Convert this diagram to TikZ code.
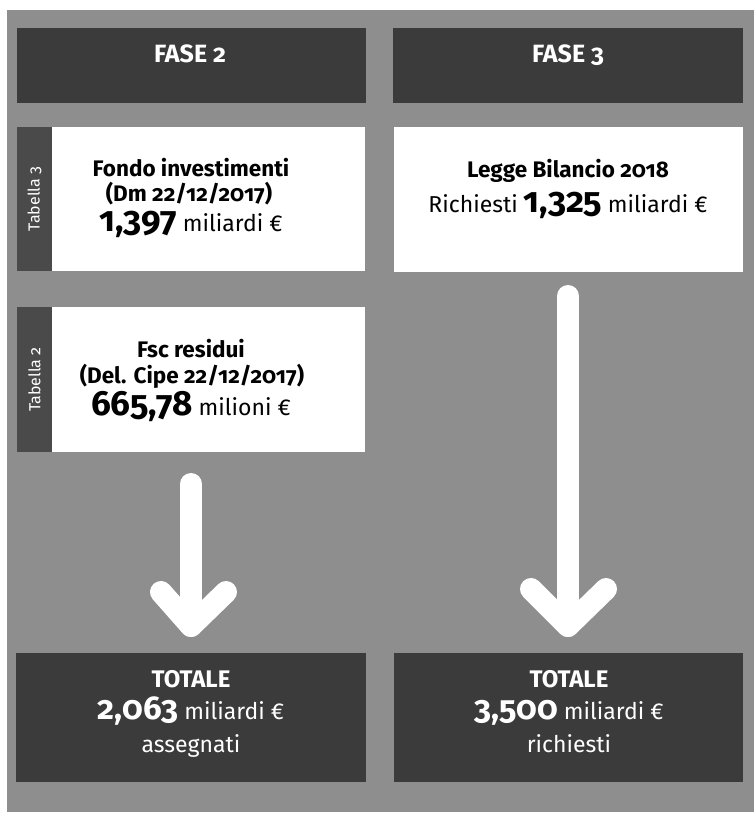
\documentclass[tikz,border=0pt]{standalone}
\usepackage{fontspec}
\setmainfont{Fira Sans}[Numbers=OldStyle]
\definecolor{bggray}{HTML}{8E8E8E}
\definecolor{darkbox}{HTML}{3B3B3B}
\definecolor{tabgray}{HTML}{4A4A4A}
\newcommand{\bignum}[1]{{\fontsize{35}{36}\selectfont\bfseries #1}}
\newcommand{\totnum}[1]{{\fontsize{33}{36}\selectfont\bfseries #1}}
\tikzset{
  darkpanel/.style={fill=darkbox, draw=none, inner sep=0pt},
  whitepanel/.style={fill=white, draw=none, inner sep=0pt},
  tabstrip/.style={fill=tabgray, draw=none, inner sep=0pt},
  headtxt/.style={anchor=base, inner sep=0pt, text=white, font=\fontsize{25}{28}\selectfont\bfseries},
  boldline/.style={anchor=base, inner sep=0pt, text=black, font=\fontsize{22.5}{26}\selectfont\bfseries},
  plainline/.style={anchor=base, inner sep=0pt, text=black, font=\fontsize{23}{26}\selectfont},
  tottitle/.style={anchor=base, inner sep=0pt, text=white, font=\fontsize{24}{26}\selectfont\bfseries},
  totline/.style={anchor=base, inner sep=0pt, text=white, font=\fontsize{23}{26}\selectfont},
  tabtxt/.style={rotate=90, inner sep=0pt, text=white, font=\fontsize{16}{18}\selectfont},
  bigarrow/.style={draw=white, line width=22pt, line cap=round, line join=round},
}
\begin{document}
\begin{tikzpicture}[x=1pt,y=-1pt]
\useasboundingbox (0,0) rectangle (754,821);
\fill[white] (0,0) rectangle (754,821);
\fill[bggray] (7,10) rectangle (754,812);
% headers
\node[darkpanel, minimum width=349pt, minimum height=75pt] (f2) at (191.5,65.5) {};
\node[darkpanel, minimum width=350pt, minimum height=75pt] (f3) at (568,65.5) {};
\node[headtxt] (f2t) at (190,63) {FASE 2};
\node[headtxt] (f3t) at (568,63) {FASE 3};
% Fondo investimenti
\node[tabstrip, minimum width=35pt, minimum height=144pt] (t3) at (34.5,199) {};
\node[tabtxt] (t3l) at (t3.center) {Tabella 3};
\node[whitepanel, minimum width=313pt, minimum height=144pt] (fondo) at (208.5,199) {};
\node[boldline] (fondo1) at (191,177) {Fondo investimenti};
\node[boldline] (fondo2) at (189,201) {(Dm 22/12/2017)};
\node[plainline] (fondo3) at (191,231) {\bignum{1,397}\ miliardi €};
% Legge Bilancio
\node[whitepanel, minimum width=349pt, minimum height=145pt] (legge) at (568.5,199.5) {};
\node[boldline] (legge1) at (568,178) {Legge Bilancio 2018};
\node[plainline] (legge2) at (568,212) {Richiesti \bignum{1,325}\ miliardi €};
% Fsc residui
\node[tabstrip, minimum width=35pt, minimum height=145pt] (t2) at (34.5,379.5) {};
\node[tabtxt] (t2l) at (t2.center) {Tabella 2};
\node[whitepanel, minimum width=313pt, minimum height=145pt] (fsc) at (208.5,379.5) {};
\node[boldline] (fsc1) at (191,357) {Fsc residui};
\node[boldline] (fsc2) at (192,383) {(Del. Cipe 22/12/2017)};
\node[plainline] (fsc3) at (191,415) {\bignum{665,78}\ milioni €};
% totals
\node[darkpanel, minimum width=350pt, minimum height=129pt] (tot2) at (191,717.5) {};
\node[darkpanel, minimum width=349pt, minimum height=129pt] (tot3) at (568.5,717.5) {};
\node[tottitle] (tot2a) at (191,687) {TOTALE};
\node[totline] (tot2b) at (191,719) {\totnum{2,063}\ miliardi €};
\node[totline] (tot2c) at (191,752) {assegnati};
\node[tottitle] (tot3a) at (569,687) {TOTALE};
\node[totline] (tot3b) at (569,719) {\totnum{3,500}\ miliardi €};
\node[totline] (tot3c) at (569,752) {richiesti};
% arrows
\coordinate (a2s) at (191,484);
\coordinate (a2t) at (191,626);
\coordinate (a2l) at (161,592);
\coordinate (a2r) at (226,592);
\coordinate (a3s) at (568,296);
\coordinate (a3t) at (568,626);
\coordinate (a3l) at (531,589);
\coordinate (a3r) at (606,589);
\draw[bigarrow] (a2s) -- (a2t);
\draw[bigarrow] (a2l) -- (a2t) -- (a2r);
\draw[bigarrow] (a3s) -- (a3t);
\draw[bigarrow] (a3l) -- (a3t) -- (a3r);
\end{tikzpicture}
\end{document}
